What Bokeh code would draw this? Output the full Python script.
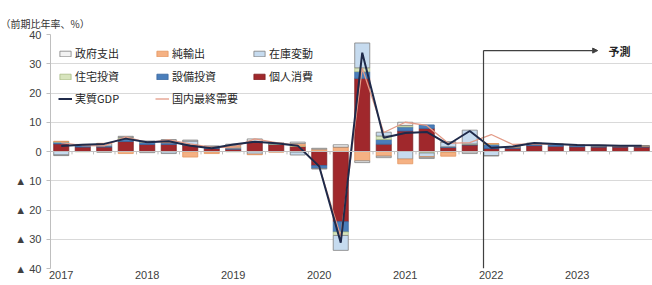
import numpy as np
from bokeh.plotting import figure
from bokeh.models import (ColumnDataSource, FixedTicker, Legend, LegendItem, Span,
                          Label, Arrow, NormalHead)
from bokeh.embed import file_html
from bokeh.resources import INLINE

# ---------------- data ----------------
quarters = ["2017Q1", "2017Q2", "2017Q3", "2017Q4",
            "2018Q1", "2018Q2", "2018Q3", "2018Q4",
            "2019Q1", "2019Q2", "2019Q3", "2019Q4",
            "2020Q1", "2020Q2", "2020Q3", "2020Q4",
            "2021Q1", "2021Q2", "2021Q3", "2021Q4",
            "2022Q1", "2022Q2", "2022Q3", "2022Q4",
            "2023Q1", "2023Q2", "2023Q3", "2023Q4"]

consumption = [2.6, 1.5, 1.5, 3.4, 2.4, 2.4, 2.2, 1.0, 0.8, 3.4, 2.4, 1.7,
               -4.8, -24.0, 25.0, 2.5, 7.0, 7.9, 1.4, 2.2,
               1.0, 1.1, 2.0, 1.8, 1.6, 1.5, 1.5, 1.5]
capex = [0.6, 0.6, 0.4, 0.9, 0.8, 0.6, 0.1, 0.5, 0.2, 0.1, 0.1, -0.2,
         -1.0, -3.5, 2.3, 1.6, 1.4, 1.2, 0.2, 0.3,
         1.5, 0.5, 0.7, 0.6, 0.5, 0.5, 0.4, 0.4]
housing = [0.2, -0.1, -0.1, 0.4, 0.1, -0.1, -0.1, -0.2, -0.1, -0.1, 0.2, 0.2,
           0.2, -1.2, 1.3, 1.2, 0.5, -0.5, -0.3, 0.1,
           0.1, 0.0, 0.0, 0.0, 0.0, 0.0, 0.0, 0.0]
inventory = [-1.2, 0.2, 0.8, 0.2, 0.3, -0.6, 1.3, 0.3, 0.5, -0.8, -0.1, -1.0,
             -0.2, -5.1, 8.5, 1.3, -2.6, -1.3, 1.6, 4.7,
             -1.4, 0.0, 0.0, 0.0, 0.0, 0.0, 0.0, 0.0]
net_exports = [0.1, 0.1, 0.1, -0.7, -0.1, 0.6, -1.8, -0.5, 0.5, -0.2, -0.1, 0.8,
               0.6, 1.5, -3.2, -1.6, -1.6, -0.2, -1.3, -0.2,
               0.1, 0.0, 0.0, 0.0, 0.0, 0.0, 0.0, 0.0]
government = [-0.2, 0.0, -0.1, 0.3, -0.3, 0.5, 0.3, 0.0, 0.5, 0.8, 0.3, 0.5,
              0.3, 0.8, -0.6, -0.5, 1.1, -0.4, 0.1, -0.5,
              -0.1, 0.1, 0.2, 0.2, 0.1, 0.1, 0.1, 0.1]
real_gdp = [1.9, 2.3, 2.6, 4.4, 3.2, 3.5, 2.0, 1.1, 2.4, 3.3, 2.8, 2.0,
            -5.1, -31.2, 33.8, 4.7, 6.3, 6.7, 2.4, 7.0,
            1.3, 1.7, 2.9, 2.6, 2.2, 2.1, 2.0, 2.0]
domestic_final_demand = [3.0, 2.0, 1.9, 5.0, 3.0, 4.0, 2.6, 1.4, 1.4, 4.3, 3.0, 2.1,
                         -5.3, -29.0, 28.5, 6.5, 10.0, 8.9, 2.8, 3.0,
                         5.8, 2.4, 2.6, 2.5, 2.2, 2.1, 2.0, 2.0]

year_ticks = [0, 4, 8, 12, 16, 20, 24]
year_labels = ["2017", "2018", "2019", "2020", "2021", "2022", "2023"]
y_ticks = [-40, -30, -20, -10, 0, 10, 20, 30, 40]
y_tick_labels = ["▲ 40", "▲ 30", "▲ 20", "▲ 10", "0", "10", "20", "30", "40"]
forecast_start = 19.64     # between 2021Q4 and 2022Q1
forecast_label = "予測"

# ---------------- figure ----------------
Y0, Y1 = -40, 40
p = figure(width=652, height=285, x_range=(-0.5, 27.5), y_range=(Y0, Y1),
           output_backend="svg", toolbar_location=None,
           min_border_left=50, min_border_right=0, min_border_top=34, min_border_bottom=17)
p.outline_line_color = None
p.background_fill_color = "white"
p.xgrid.grid_line_color = None
p.ygrid.grid_line_color = "#d9d9d9"
p.ygrid.ticker = FixedTicker(ticks=y_ticks)

p.title.text = "（前期比年率、%）"
p.title.text_font = "Noto Sans CJK JP"
p.title.text_font_size = "10px"
p.title.text_font_style = "normal"
p.title.text_color = "#333333"
p.title.align = "left"
p.title.offset = -50
p.title.standoff = 8

# y axis
p.yaxis.ticker = FixedTicker(ticks=y_ticks)
p.yaxis.major_label_overrides = {t: l for t, l in zip(y_ticks, y_tick_labels)}
p.yaxis.axis_line_color = "#bfbfbf"
p.yaxis.major_tick_line_color = "#bfbfbf"
p.yaxis.major_tick_out = 4
p.yaxis.major_tick_in = 0
p.yaxis.minor_tick_line_color = None
p.yaxis.major_label_text_font = "Liberation Sans"
p.yaxis.major_label_text_font_size = "11px"
p.yaxis.major_label_text_color = "#404040"
p.yaxis.major_label_standoff = 5

# x axis: year labels only
p.xaxis.ticker = FixedTicker(ticks=year_ticks)
p.xaxis.major_label_overrides = {t: l for t, l in zip(year_ticks, year_labels)}
p.xaxis.axis_line_color = None
p.xaxis.major_tick_line_color = None
p.xaxis.minor_tick_line_color = None
p.xaxis.major_tick_out = 0
p.xaxis.major_tick_in = 0
p.xaxis.major_label_text_font = "Liberation Sans"
p.xaxis.major_label_text_font_size = "11px"
p.xaxis.major_label_text_color = "#404040"
p.xaxis.major_label_standoff = 2

x = np.arange(len(quarters))

# stacked bars: positives stacked upward, negatives downward
components = [
    ("個人消費", consumption, "#a0282c", "#7d1f22"),
    ("設備投資", capex, "#4a7ebb", "#3a679e"),
    ("住宅投資", housing, "#d7e4bd", "#a9bd86"),
    ("在庫変動", inventory, "#c6dbef", "#7f7f7f"),
    ("純輸出", net_exports, "#f5b183", "#e3965f"),
    ("政府支出", government, "#f2f2f2", "#7f7f7f"),
]
pos_base = np.zeros(len(x))
neg_base = np.zeros(len(x))
bar_r = {}
for name, vals, fill, line in components:
    v = np.array(vals, dtype=float)
    bottom = np.where(v >= 0, pos_base, neg_base + v)
    top = np.where(v >= 0, pos_base + v, neg_base)
    pos_base = pos_base + np.clip(v, 0, None)
    neg_base = neg_base + np.clip(v, None, 0)
    src = ColumnDataSource(dict(x=x, bottom=bottom, top=top))
    bar_r[name] = p.vbar(x="x", bottom="bottom", top="top", width=0.7, source=src,
                         fill_color=fill, line_color=line, line_width=0.8)

# zero axis line and category ticks
p.add_layout(Span(location=0, dimension="width", line_color="#bfbfbf", line_width=1))
p.segment(x0=x[:-1] + 0.5, y0=0, x1=x[:-1] + 0.5, y1=-1.0, line_color="#bfbfbf", line_width=1)

# lines
dfd_r = p.line(x, domestic_final_demand, line_color="#e39b87", line_width=1.3)
gdp_r = p.line(x, real_gdp, line_color="#1f2a4a", line_width=2.0)

# forecast marker
p.segment(x0=[forecast_start], y0=[34.5], x1=[forecast_start], y1=[Y0],
          line_color="#404040", line_width=1.2)
p.add_layout(Arrow(end=NormalHead(size=5, fill_color="#404040", line_color="#404040"),
                   x_start=forecast_start, y_start=34.5, x_end=24.95, y_end=34.5,
                   line_color="#404040", line_width=1.2))
p.add_layout(Label(x=25.45, y=34.5, text=forecast_label, text_baseline="middle",
                   text_font="Noto Sans CJK JP", text_font_size="11px",
                   text_font_style="bold", text_color="#262626"))

# legend: three rows
rows = [
    [("政府支出", bar_r["政府支出"]), ("純輸出", bar_r["純輸出"]), ("在庫変動", bar_r["在庫変動"])],
    [("住宅投資", bar_r["住宅投資"]), ("設備投資", bar_r["設備投資"]), ("個人消費", bar_r["個人消費"])],
    [("実質GDP", gdp_r), ("国内最終需要", dfd_r)],
]
row_y = [207, 184, 162]
for items, yy in zip(rows, row_y):
    leg = Legend(items=[LegendItem(label=l, renderers=[r]) for l, r in items],
                 orientation="horizontal", location=(8, yy),
                 label_text_font="Noto Sans CJK JP", label_text_font_size="11px",
                 label_text_color="#262626", glyph_width=14, glyph_height=7,
                 label_height=14, label_width=80, label_standoff=3, spacing=0,
                 padding=0, margin=0, border_line_color=None, background_fill_alpha=0)
    p.add_layout(leg)

open("out.html", "w").write(file_html(p, INLINE))
